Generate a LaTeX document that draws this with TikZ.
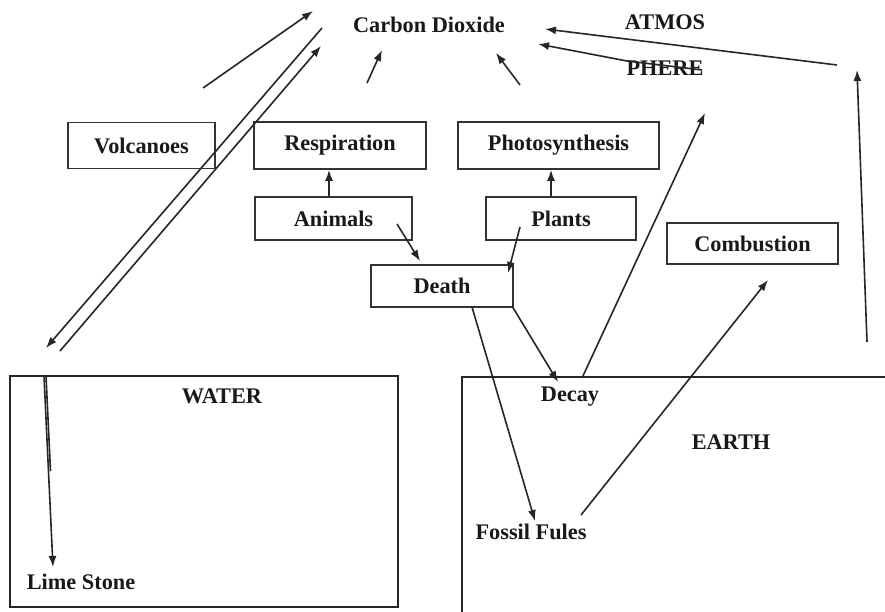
\documentclass[tikz,border=0pt]{standalone}
\usepackage{fontspec}
\setmainfont{Liberation Serif}
\usetikzlibrary{arrows.meta,calc}
\begin{document}
\begin{tikzpicture}[x=1pt,y=-1pt,
  lbl/.style={font=\fontsize{22.3}{26}\selectfont\bfseries, inner sep=0pt, text=black!90},
  boxn/.style={lbl, draw=black!80, line width=1.7pt},
  arr/.style={draw=black!85, line width=1.6pt, -{Latex[length=11pt,width=8pt]}},
  ln/.style={draw=black!85, line width=1.6pt}]
\useasboundingbox[fill=white] (0,0) rectangle (885,612);
% regions
\draw[ln] (10,376) rectangle (398,607);
\draw[ln] (462,612) -- (462,377) -- (885,377);
% texts
\node[lbl] (co2) at (429,25) {Carbon Dioxide};
\node[lbl] (atm) at (665,22) {ATMOS};
\node[lbl] (phe) at (665,68) {PHERE};
\node[lbl] (water) at (222,396) {WATER};
\node[lbl] (lime) at (81,582) {Lime Stone};
\node[lbl] (decay) at (570,397) {Decay};
\node[lbl] (earth) at (731,442) {EARTH};
\node[lbl] (fossil) at (531,532) {Fossil Fules};
% boxes
\node[boxn, minimum width=147pt, minimum height=46pt] (volc) at (141.5,145.5) {Volcanoes};
\node[boxn, minimum width=172pt, minimum height=47pt] (resp) at (340,145.5) {Respiration};
\node[boxn, minimum width=201pt, minimum height=47pt] (photo) at (558.5,145.5) {Photosynthesis};
\node[boxn, minimum width=157pt, minimum height=43pt] (anim) at (333.5,218.5) {Animals};
\node[boxn, minimum width=150pt, minimum height=43pt] (plant) at (561,218.5) {Plants};
\node[boxn, minimum width=171pt, minimum height=41pt] (comb) at (752.5,243.5) {Combustion};
\node[boxn, minimum width=142pt, minimum height=42pt] (death) at (442,286) {Death};
% connector end points
\coordinate (v1) at (203,88);   \coordinate (v2) at (313,11);
\coordinate (a1) at (322,28);   \coordinate (a2) at (46,348);
\coordinate (b1) at (60,351);   \coordinate (b2) at (321,46);
\coordinate (l1) at (44,376);   \coordinate (l2) at (53,567);
\coordinate (lm) at (48.5,471);
\coordinate (r1) at (367,83);   \coordinate (r2) at (382,50);
\coordinate (p1) at (520,85);   \coordinate (p2) at (496,53);
\coordinate (t1) at (837,65);   \coordinate (t2) at (545,29);
\coordinate (u1) at (702,70);   \coordinate (um) at (627,61);  \coordinate (u2) at (538,44);
\coordinate (e1) at (867,342);  \coordinate (e2) at (857,70);
\coordinate (ad1) at (397,224); \coordinate (ad2) at (420,261);
\coordinate (pd1) at (520,227); \coordinate (pd2) at (508,273);
\coordinate (dc1) at (582,378); \coordinate (dc2) at (705,113);
\coordinate (dd1) at (512,306); \coordinate (dd2) at (558,382);
\coordinate (df1) at (472,307); \coordinate (df2) at (535,521);
\coordinate (fc1) at (581,515); \coordinate (fc2) at (768,280);
\coordinate (ax) at (329,0);    \coordinate (px) at (551,0);
% connectors
\draw[arr] (v1) -- (v2);
\draw[arr] (a1) -- (a2);
\draw[arr] (b1) -- (b2);
\draw[arr] (l1) -- (l2);
\draw[ln] ([xshift=2pt]l1) -- ([xshift=2pt]lm);
\draw[arr] (r1) -- (r2);
\draw[arr] (p1) -- (p2);
\draw[arr] (t1) -- (t2);
\draw[arr] (u1) -- (um) -- (u2);
\draw[arr] (e1) -- (e2);
\draw[arr] (anim.north -| ax) -- (resp.south -| ax);
\draw[arr] (plant.north -| px) -- (photo.south -| px);
\draw[arr] (ad1) -- (ad2);
\draw[arr] (pd1) -- (pd2);
\draw[arr] (dc1) -- (dc2);
\draw[arr] (dd1) -- (dd2);
\draw[arr] (df1) -- (df2);
\draw[arr] (fc1) -- (fc2);
\end{tikzpicture}
\end{document}
